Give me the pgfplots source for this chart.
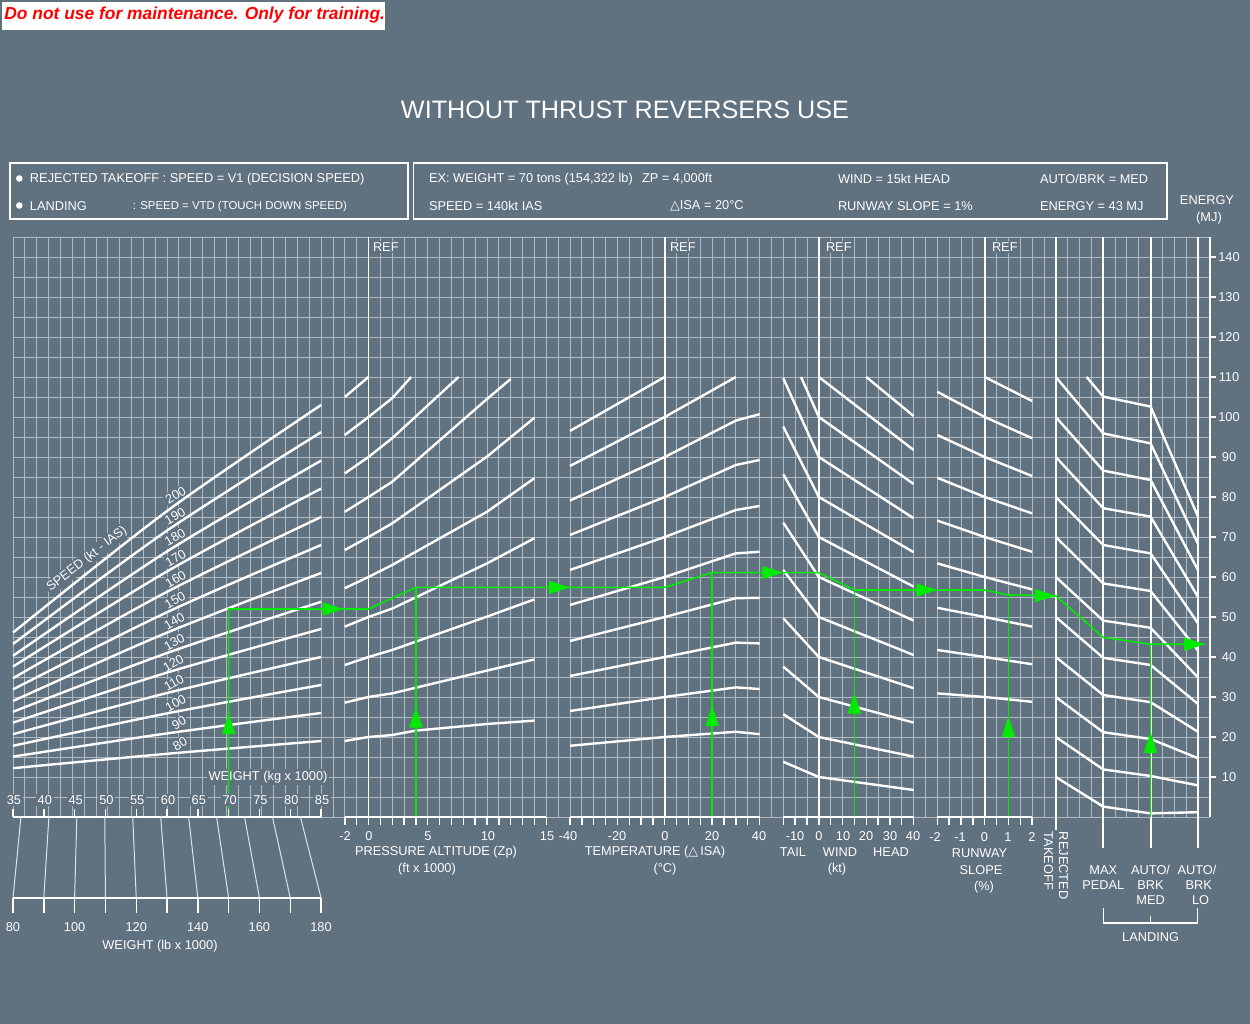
\documentclass[border=0pt]{standalone}
\usepackage{pgfplots}
\pgfplotsset{compat=1.18}
\usepackage{fontspec}
\setmainfont{Liberation Sans}
\newfontfamily\dejavu{DejaVu Sans}
\usetikzlibrary{arrows.meta}
\definecolor{bg}{RGB}{96,113,128}
\definecolor{gridc}{RGB}{176,186,195}
\definecolor{grn}{RGB}{0,235,0}
\newcommand{\fs}{\fontsize{6.4pt}{7.6pt}\selectfont}
\newcommand{\fss}{\fontsize{5.7pt}{7pt}\selectfont}
\newcommand{\tri}{{\dejavu\char"25B3}}
\pgfplotsset{
  wl/.style={white,line width=1.2pt,line join=round,mark=none},
  wt/.style={x filter/.expression={(x-35)*0.52}},
  zp/.style={x filter/.expression={x+30}},
  tp/.style={x filter/.expression={55+x/5}},
  wd/.style={x filter/.expression={68+x/5}},
  sl/.style={x filter/.expression={82+2*x}},
  gr/.style={grn,line width=0.8pt,mark=none},
  ga/.style={grn,line width=0.8pt,mark=none,-{Triangle[length=10.5pt,width=6.5pt]}},
}
\begin{document}
\begin{tikzpicture}[
  pix/.style={x=0.5pt,y=-0.5pt,shift={(0pt,512pt)}},
  lab/.style={text=white,font=\fs,inner sep=0.8pt},
  labf/.style={lab,fill=bg},
]
\begin{scope}[pix]
\fill[bg] (0,0) rectangle (1250,1024);
\foreach \i in {0,...,101} {\draw[gridc,line width=0.45pt] ({13+11.85*\i},237) -- ({13+11.85*\i},817);}
\foreach \j in {0,...,29} {\draw[gridc,line width=0.45pt] (13,{237+20*\j}) -- (1209.85,{237+20*\j});}
\foreach \k in {30,55,68,82} {\draw[white,line width=0.9pt] ({13+11.85*\k},237) -- ({13+11.85*\k},817);}
\draw[white,line width=0.9pt] ({13+11.85*88},237) -- ({13+11.85*88},830);
\foreach \k in {92,96,100} {\draw[white,line width=0.9pt] ({13+11.85*\k},237) -- ({13+11.85*\k},848);}
\draw[white,line width=0.9pt] (1209.85,237) -- (1209.85,817);
% labels with background (under curves)
\node[labf,anchor=west] at (371,247) {REF};
\node[labf,anchor=west] at (668,247) {REF};
\node[labf,anchor=west] at (824,247) {REF};
\node[labf,anchor=west] at (990,247) {REF};
\node[labf] at (268,777) {WEIGHT (kg x 1000)};
\node[labf,rotate=38] at (87,559) {SPEED (kt - IAS)};
\foreach \s/\x/\y in {200/175.7/495,190/175/516,180/175/537,170/175.7/558,160/175.7/579,150/175/600,140/174.3/621,130/174.3/642,120/173.3/663,110/174/683,100/175.7/703,90/179/723,80/180/744}
  {\node[labf,rotate=30] at (\x,\y) {\s};}
\end{scope}

\begin{axis}[at={(0pt,0pt)},anchor=south west,scale only axis,width=625pt,height=512pt,
  xmin=-1.09705,xmax=104.38819,ymin=-51.75,ymax=204.25,hide axis]
% weight / speed lines
\addplot[wl,wt,smooth] coordinates {(35,46.1) (60,76.5) (85,103)};
\addplot[wl,wt,smooth] coordinates {(35,43.25) (60,71.6) (85,96.2)};
\addplot[wl,wt,smooth] coordinates {(35,40.3) (60,66.4) (85,89.1)};
\addplot[wl,wt,smooth] coordinates {(35,37.6) (60,61.4) (85,82.1)};
\addplot[wl,wt,smooth] coordinates {(35,34.7) (60,56.3) (85,75)};
\addplot[wl,wt,smooth] coordinates {(35,31.9) (60,51.2) (85,68)};
\addplot[wl,wt,smooth] coordinates {(35,29) (60,46.1) (85,61)};
\addplot[wl,wt,smooth] coordinates {(35,26.3) (60,41.0) (85,53.8)};
\addplot[wl,wt,smooth] coordinates {(35,23.6) (60,36.1) (85,47)};
\addplot[wl,wt,smooth] coordinates {(35,20.7) (60,31.0) (85,40)};
\addplot[wl,wt,smooth] coordinates {(35,17.8) (60,25.9) (85,33)};
\addplot[wl,wt,smooth] coordinates {(35,15.1) (60,20.9) (85,26)};
\addplot[wl,wt,smooth] coordinates {(35,12.2) (60,15.8) (85,19)};
% pressure altitude
\addplot[wl,zp] coordinates {(-2,105) (0,110)};
\addplot[wl,zp] coordinates {(-2,95.5) (0,100) (2,104.7) (3.6,110)};
\addplot[wl,zp] coordinates {(-2,85.9) (0,90) (2,94.7) (7.6,110)};
\addplot[wl,zp] coordinates {(-2,76.3) (0,80) (2,83.8) (10,104.5) (12,109.5)};
\addplot[wl,zp] coordinates {(-2,66.75) (0,70) (2,73.4) (10,90.1) (14,99.8)};
\addplot[wl,zp] coordinates {(-2,57.2) (0,60) (2,63) (10,76.3) (14,84.7)};
\addplot[wl,zp] coordinates {(-2,47.6) (0,50) (2,52.1) (10,63.4) (14,69.7)};
\addplot[wl,zp] coordinates {(-2,38) (0,40) (2,41.75) (10,50.1) (14,54.4)};
\addplot[wl,zp] coordinates {(-2,28.6) (0,30) (2,30.9) (10,36.6) (14,39.4)};
\addplot[wl,zp] coordinates {(-2,19) (0,20) (2,20.5) (4,21.6) (10,23.25) (14,24.1)};
% temperature
\addplot[wl,tp] coordinates {(-40,96.5) (0,110)};
\addplot[wl,tp] coordinates {(-40,87.75) (0,100) (30,110)};
\addplot[wl,tp] coordinates {(-40,79.1) (0,90) (30,99.1) (40,100.7)};
\addplot[wl,tp] coordinates {(-40,70.5) (0,80) (30,88) (40,89.25)};
\addplot[wl,tp] coordinates {(-40,61.75) (0,70) (30,76.75) (40,77.75)};
\addplot[wl,tp] coordinates {(-40,53) (0,60) (30,65.9) (40,66.3)};
\addplot[wl,tp] coordinates {(-40,44) (0,50) (30,54.7) (40,54.8)};
\addplot[wl,tp] coordinates {(-40,35.25) (0,40) (30,43.6) (40,43.4)};
\addplot[wl,tp] coordinates {(-40,26.5) (0,30) (30,32.4) (40,32)};
\addplot[wl,tp] coordinates {(-40,17.8) (0,20) (30,21.3) (40,20.7)};
% wind
\addplot[wl,wd] coordinates {(20,110) (40,100.25)};
\addplot[wl,wd] coordinates {(0,110) (40,91.75)};
\addplot[wl,wd] coordinates {(-7.5,110) (0,100) (40,83.25)};
\addplot[wl,wd] coordinates {(-15,109.7) (0,90) (40,74.7)};
\addplot[wl,wd] coordinates {(-15,97.6) (0,80) (40,66.2)};
\addplot[wl,wd] coordinates {(-15,85.7) (0,70) (40,57.6)};
\addplot[wl,wd] coordinates {(-15,73.6) (0,60) (40,49.1)};
\addplot[wl,wd] coordinates {(-15,61.75) (0,50) (40,40.5)};
\addplot[wl,wd] coordinates {(-15,49.7) (0,40) (40,32.2)};
\addplot[wl,wd] coordinates {(-15,37.6) (0,30) (40,23.6)};
\addplot[wl,wd] coordinates {(-15,25.7) (0,20) (40,15.1)};
\addplot[wl,wd] coordinates {(-15,13.8) (0,10) (40,6.75)};
% runway slope
\addplot[wl,sl] coordinates {(0,110) (2,104)};
\addplot[wl,sl] coordinates {(-2,106.3) (0,100) (2,94.7)};
\addplot[wl,sl] coordinates {(-2,95.5) (0,90) (2,85.25)};
\addplot[wl,sl] coordinates {(-2,84.8) (0,80) (2,75.9)};
\addplot[wl,sl] coordinates {(-2,74.1) (0,70) (2,66.3)};
\addplot[wl,sl] coordinates {(-2,63.4) (0,60) (2,56.9)};
\addplot[wl,sl] coordinates {(-2,52.3) (0,50) (2,47.6)};
\addplot[wl,sl] coordinates {(-2,41.75) (0,40) (2,38.2)};
\addplot[wl,sl] coordinates {(-2,30.9) (0,30) (2,28.8)};
% rejected takeoff / landing (REJ=88, MAX PEDAL=92, MED=96, LO=100)
\addplot[wl] coordinates {(90.6,110) (92,105.1) (96,102.6) (100,75.1)};
\addplot[wl] coordinates {(88,110) (92,95.9) (96,93.4) (100,68.25)};
\addplot[wl] coordinates {(88,100) (92,86.6) (96,84.25) (100,61.7)};
\addplot[wl] coordinates {(88,90) (92,77.2) (96,75.1) (100,55)};
\addplot[wl] coordinates {(88,80) (92,68) (96,65.9) (100,48.4)};
\addplot[wl] coordinates {(88,70) (92,58.4) (96,56.5) (100,41.6)};
\addplot[wl] coordinates {(88,60) (92,49.1) (96,47.3) (100,34.9)};
\addplot[wl] coordinates {(88,50) (92,39.8) (96,38) (100,28.25)};
\addplot[wl] coordinates {(88,40) (92,30.5) (96,28.7) (100,21.3)};
\addplot[wl] coordinates {(88,30) (92,21.2) (96,19.5) (100,14.7)};
\addplot[wl] coordinates {(88,20) (92,11.9) (96,10.25) (100,7.9)};
\addplot[wl] coordinates {(88,10) (92,2.6) (96,0.9) (100,1.2)};
% example path
\addplot[gr] coordinates {(18.2,0) (18.2,52) (28,52) (30,52) (34,57.4) (47,57.4) (55,57.4) (59,61.1) (65,61.1) (68,61.1) (71,56.75) (78,56.75) (82,56.75) (84,55.5) (88,55.3) (92,44.9) (96,43.2) (100.6,43.2)};
\addplot[gr] coordinates {(34,0) (34,57.4)};
\addplot[gr] coordinates {(59,0) (59,61.1)};
\addplot[gr] coordinates {(71,0) (71,56.75)};
\addplot[gr] coordinates {(84,0) (84,55.5)};
\addplot[gr] coordinates {(96,0) (96,43.2)};
\addplot[ga] coordinates {(18.2,20.5) (18.2,26)};
\addplot[ga] coordinates {(26.1,52) (27.9,52)};
\addplot[ga] coordinates {(34,22.3) (34,27.6)};
\addplot[ga] coordinates {(45.2,57.4) (47,57.4)};
\addplot[ga] coordinates {(59,22.7) (59,28)};
\addplot[ga] coordinates {(63.2,61.1) (65,61.1)};
\addplot[ga] coordinates {(71,25.8) (71,31.1)};
\addplot[ga] coordinates {(76.2,56.75) (78,56.75)};
\addplot[ga] coordinates {(84,19.9) (84,25.2)};
\addplot[ga] coordinates {(86.2,55.35) (88,55.3)};
\addplot[ga] coordinates {(96,16) (96,21.3)};
\addplot[ga] coordinates {(98.8,43.2) (100.6,43.2)};
\end{axis}

\begin{scope}[pix]
% warning
\fill[white] (2,2) rectangle (385,30);
\node[text=red,font=\fontsize{8.7pt}{10pt}\selectfont\bfseries\itshape,anchor=west,inner sep=0pt] at (4,15) {Do not use for maintenance. Only for training.};
% title
\node[text=white,font=\fontsize{12.6pt}{14pt}\selectfont] at (625,110) {WITHOUT THRUST REVERSERS USE};
% boxes
\draw[white,line width=0.75pt] (10,163) rectangle (408,219);
\draw[white,line width=0.75pt] (413.5,163) rectangle (1167,219);
\fill[white] (19.3,178.5) circle[radius=1.65pt];
\fill[white] (19.3,205.5) circle[radius=1.65pt];
\node[lab,anchor=west] at (28,179) {REJECTED TAKEOFF : SPEED = V1 (DECISION SPEED)};
\node[lab,anchor=west] at (28,206) {LANDING};
\node[lab,font=\fss,anchor=west] at (131,207) {: SPEED = VTD (TOUCH DOWN SPEED)};
\node[lab,anchor=west] at (427,179) {EX: WEIGHT = 70 tons (154,322 lb)};
\node[lab,anchor=west] at (640,179) {ZP = 4,000ft};
\node[lab,anchor=west] at (836,179) {WIND = 15kt HEAD};
\node[lab,anchor=west] at (1038,179) {AUTO/BRK = MED};
\node[lab,anchor=west] at (427,206) {SPEED = 140kt IAS};
\node[lab,anchor=west] at (668,206) {\tri ISA = 20°C};
\node[lab,anchor=west] at (836,206) {RUNWAY SLOPE = 1\%};
\node[lab,anchor=west] at (1038,206) {ENERGY = 43 MJ};
\node[lab] at (1207,200) {ENERGY};
\node[lab] at (1209,218) {(MJ)};
% energy axis
\foreach \e in {10,20,...,140} {\draw[white,line width=0.6pt] (1209.85,{817-4*\e}) -- ++(6,0); \node[lab] at (1229,{817-4*\e}) {\e};}
% weight kg axis
\draw[white,line width=0.8pt] (13,817) -- (321.1,817);
\foreach \w in {35,40,...,85} {\draw[white,line width=0.7pt] ({13+(\w-35)*6.162},817) -- ++(0,-8); \node[labf] at ({14+(\w-35)*6.162},800) {\w};}
% lb conversion
\foreach \a/\b in {0.669/0,3.028/2.6,5.387/5.2,7.745/7.8,10.104/10.4,12.463/13,14.822/15.6,17.180/18.2,19.539/20.8,21.898/23.4,24.256/26}
  {\draw[white!80!bg,line width=0.5pt] ({13+11.85*\a},817) -- ({13+11.85*\b},898);
   \draw[white,line width=0.7pt] ({13+11.85*\b},898) -- ++(0,15);}
\draw[white,line width=0.8pt] (13,898) -- (321.1,898);
\foreach \l/\x in {80/13,100/74.6,120/136.2,140/197.8,160/259.4,180/321} {\node[lab] at (\x,927) {\l};}
\node[lab] at (160,946) {WEIGHT (lb x 1000)};
% bottom axes
\draw[white,line width=0.8pt] ({13+11.85*28},817) -- ({13+11.85*45},817);
\foreach \k in {28,...,45} {\draw[white,line width=0.7pt] ({13+11.85*\k},817) -- ++(0,8);}
\draw[white,line width=0.8pt] ({13+11.85*47},817) -- ({13+11.85*63},817);
\foreach \k in {47,...,63} {\draw[white,line width=0.7pt] ({13+11.85*\k},817) -- ++(0,8);}
\draw[white,line width=0.8pt] ({13+11.85*65},817) -- ({13+11.85*76},817);
\foreach \k in {65,...,76} {\draw[white,line width=0.7pt] ({13+11.85*\k},817) -- ++(0,8);}
\draw[white,line width=0.8pt] ({13+11.85*78},817) -- ({13+11.85*86},817);
\foreach \k in {78,...,86} {\draw[white,line width=0.7pt] ({13+11.85*\k},817) -- ++(0,8);}
\foreach \t/\x in {-2/345,0/369,5/428,10/488,15/547} {\node[lab] at (\x,836) {\t};}
\node[lab] at (436,852) {PRESSURE ALTITUDE (Zp)};
\node[lab] at (427,869) {(ft x 1000)};
\foreach \t/\x in {-40/568,-20/617,0/665,20/712,40/759} {\node[lab] at (\x,836) {\t};}
\node[lab] at (655,852) {TEMPERATURE (\tri\,ISA)};
\node[lab] at (665,869) {(°C)};
\foreach \t/\x in {-10/795,0/819,10/843,20/866,30/890,40/913} {\node[lab] at (\x,836) {\t};}
\node[lab] at (793,852) {TAIL};
\node[lab] at (840,852) {WIND};
\node[lab] at (891,852) {HEAD};
\node[lab] at (837,869) {(kt)};
\foreach \t/\x in {-2/935,-1/960,0/984.5,1/1008,2/1032} {\node[lab] at (\x,837) {\t};}
\node[lab] at (979.5,853) {RUNWAY};
\node[lab] at (981,870) {SLOPE};
\node[lab] at (984,887) {(\%)};
\node[lab,rotate=-90,anchor=west,align=left] at (1056,830) {REJECTED\\TAKEOFF};
\node[lab,align=center] at (1103.3,877.5) {MAX\\PEDAL};
\node[lab,align=center] at (1150.6,885) {AUTO/\\BRK\\MED};
\node[lab,align=center] at (1197,885) {AUTO/\\\ BRK\\\ \ LO};
\draw[white,line width=0.7pt] (1103.3,908) -- (1103.3,923) -- (1197.7,923) -- (1197.7,908);
\draw[white,line width=0.7pt] (1150.6,923) -- (1150.6,916);
\node[lab] at (1150.6,937) {LANDING};
\end{scope}
\end{tikzpicture}
\end{document}
